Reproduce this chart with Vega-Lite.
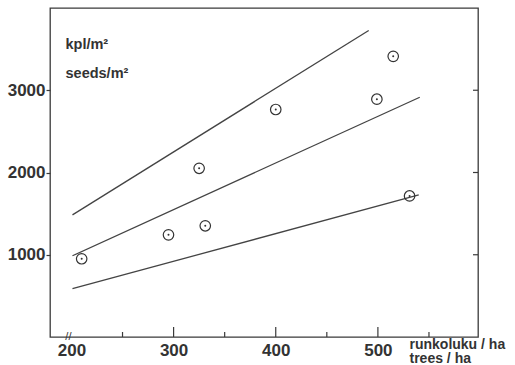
{
  "$schema": "https://vega.github.io/schema/vega-lite/v6.json",
  "width": 428,
  "height": 329,
  "autosize": "none",
  "padding": {"left": 50, "top": 8, "right": 37, "bottom": 28},
  "background": "white",
  "config": {
    "view": {"stroke": "#3a3a3a", "strokeWidth": 1.3},
    "font": "Liberation Sans"
  },
  "datasets": {
    "lines": [
      {"line": "upper", "trees": 201, "seeds": 1485},
      {"line": "upper", "trees": 491, "seeds": 3727},
      {"line": "middle", "trees": 201, "seeds": 988},
      {"line": "middle", "trees": 541, "seeds": 2915},
      {"line": "lower", "trees": 201, "seeds": 588},
      {"line": "lower", "trees": 540, "seeds": 1727}
    ],
    "points": [
      {"trees": 210, "seeds": 951},
      {"trees": 295, "seeds": 1242},
      {"trees": 325, "seeds": 2051},
      {"trees": 331, "seeds": 1352},
      {"trees": 400, "seeds": 2766},
      {"trees": 499, "seeds": 2891},
      {"trees": 515, "seeds": 3412},
      {"trees": 531, "seeds": 1715}
    ],
    "xticks": [
      {"trees": 250, "kind": "minor"},
      {"trees": 300, "kind": "major"},
      {"trees": 350, "kind": "minor"},
      {"trees": 400, "kind": "major"},
      {"trees": 450, "kind": "minor"},
      {"trees": 500, "kind": "major"},
      {"trees": 550, "kind": "minor"}
    ],
    "yticks": [
      {"seeds": 1000},
      {"seeds": 2000},
      {"seeds": 3000}
    ]
  },
  "layer": [
    {
      "data": {"name": "lines"},
      "mark": {"type": "line", "color": "#444444", "strokeWidth": 1.3},
      "encoding": {
        "x": {
          "field": "trees", "type": "quantitative",
          "scale": {"domain": [179, 598], "nice": false, "zero": false},
          "axis": {
            "values": [200, 300, 400, 500],
            "domain": false, "grid": false, "ticks": false,
            "labelPadding": 5, "labelFlush": false, "labelOverlap": false,
            "labelFont": "Liberation Sans", "labelFontSize": 17, "labelFontWeight": "bold", "labelColor": "#333333",
            "labelBaseline": "top", "format": "d",
            "title": ["runkoluku / ha", "trees / ha"],
            "titleAlign": "left", "titleAnchor": null, "titleX": 359, "titleY": 11,
            "titleBaseline": "alphabetic", "titleFontSize": 14, "titleFontWeight": "bold",
            "titleColor": "#333333", "titleLineHeight": 14, "titleFont": "Liberation Sans"
          }
        },
        "y": {
          "field": "seeds", "type": "quantitative",
          "scale": {"domain": [0, 4000], "nice": false, "zero": false},
          "axis": {
            "values": [1000, 2000, 3000], "format": "d",
            "domain": false, "grid": false,
            "tickSize": 4, "tickColor": "#3a3a3a", "tickWidth": 1.2,
            "labelPadding": 1,
            "labelFont": "Liberation Sans", "labelFontSize": 17, "labelFontWeight": "bold", "labelColor": "#333333",
            "title": ["kpl/m²", "seeds/m²"],
            "titleAngle": 0, "titleAlign": "left", "titleBaseline": "alphabetic",
            "titleAnchor": null, "titleX": 15, "titleY": 40,
            "titleFontSize": 14.5, "titleFontWeight": "bold", "titleColor": "#333333",
            "titleLineHeight": 29, "titleFont": "Liberation Sans"
          }
        },
        "detail": {"field": "line", "type": "nominal"}
      }
    },
    {
      "data": {"name": "xticks"},
      "transform": [{"filter": "datum.kind === 'major'"}],
      "mark": {"type": "tick", "orient": "vertical", "size": 10, "thickness": 1.2, "yOffset": -5, "color": "#3a3a3a", "opacity": 1},
      "encoding": {
        "x": {"field": "trees", "type": "quantitative", "scale": {"domain": [179, 598], "nice": false, "zero": false}, "axis": null},
        "y": {"datum": 0, "type": "quantitative", "scale": {"domain": [0, 4000], "nice": false, "zero": false}, "axis": null}
      }
    },
    {
      "data": {"name": "xticks"},
      "transform": [{"filter": "datum.kind === 'minor'"}],
      "mark": {"type": "tick", "orient": "vertical", "size": 5, "thickness": 1.2, "yOffset": -2.5, "color": "#3a3a3a", "opacity": 1},
      "encoding": {
        "x": {"field": "trees", "type": "quantitative", "scale": {"domain": [179, 598], "nice": false, "zero": false}, "axis": null},
        "y": {"datum": 0, "type": "quantitative", "scale": {"domain": [0, 4000], "nice": false, "zero": false}, "axis": null}
      }
    },
    {
      "data": {"name": "yticks"},
      "mark": {"type": "tick", "orient": "horizontal", "size": 5, "thickness": 1.2, "xOffset": -2.5, "color": "#3a3a3a", "opacity": 1},
      "encoding": {
        "x": {"datum": 598, "type": "quantitative", "scale": {"domain": [179, 598], "nice": false, "zero": false}, "axis": null},
        "y": {"field": "seeds", "type": "quantitative", "scale": {"domain": [0, 4000], "nice": false, "zero": false}, "axis": null}
      }
    },
    {
      "data": {"name": "points"},
      "mark": {"type": "point", "shape": "circle", "filled": false, "size": 110, "stroke": "#333333", "strokeWidth": 1.2, "opacity": 1},
      "encoding": {
        "x": {"field": "trees", "type": "quantitative", "scale": {"domain": [179, 598], "nice": false, "zero": false}, "axis": null},
        "y": {"field": "seeds", "type": "quantitative", "scale": {"domain": [0, 4000], "nice": false, "zero": false}, "axis": null}
      }
    },
    {
      "data": {"name": "points"},
      "mark": {"type": "circle", "size": 4, "color": "#333333", "opacity": 1},
      "encoding": {
        "x": {"field": "trees", "type": "quantitative", "scale": {"domain": [179, 598], "nice": false, "zero": false}, "axis": null},
        "y": {"field": "seeds", "type": "quantitative", "scale": {"domain": [0, 4000], "nice": false, "zero": false}, "axis": null}
      }
    },
    {
      "data": {"values": [{"trees": 197, "seeds": 0, "mark": "//"}]},
      "mark": {"type": "text", "fontSize": 11, "color": "#333333", "align": "center", "baseline": "middle"},
      "encoding": {
        "x": {"field": "trees", "type": "quantitative", "scale": {"domain": [179, 598], "nice": false, "zero": false}, "axis": null},
        "y": {"field": "seeds", "type": "quantitative", "scale": {"domain": [0, 4000], "nice": false, "zero": false}, "axis": null},
        "text": {"field": "mark"}
      }
    }
  ],
  "resolve": {"axis": {"x": "independent", "y": "independent"}}
}
